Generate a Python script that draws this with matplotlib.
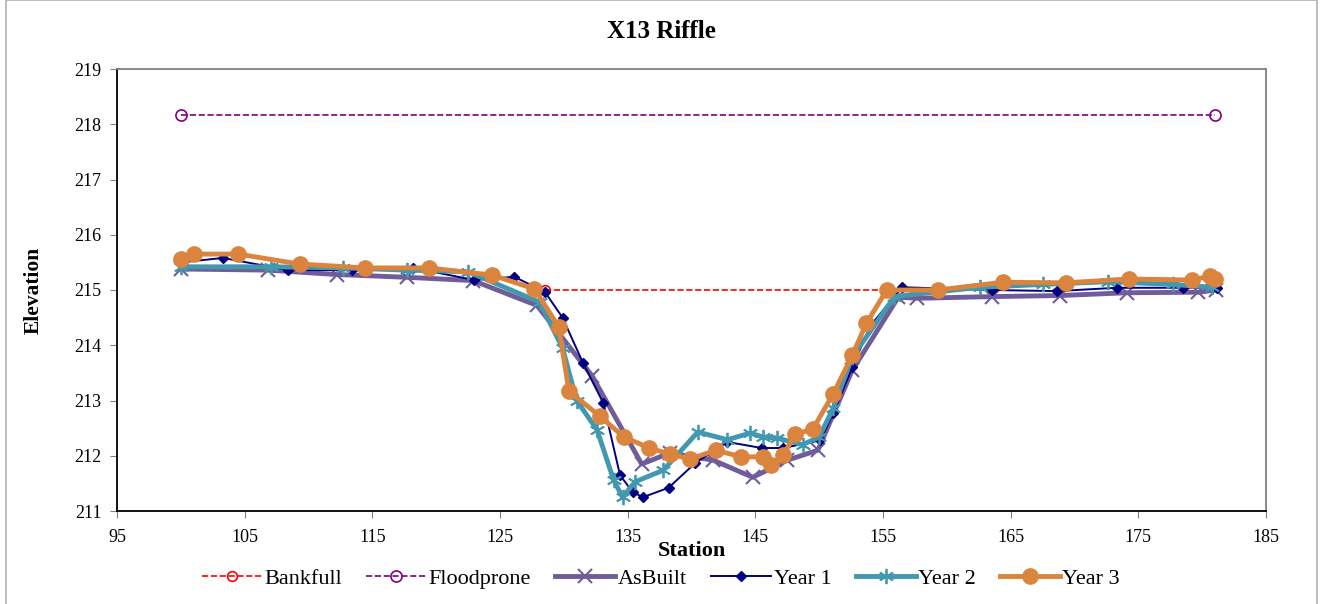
"""Perfil transversal X13 Riffle: estación vs elevación para cada campaña."""

import matplotlib
matplotlib.use("Agg")
import matplotlib.pyplot as plt
from matplotlib.patches import Rectangle

plt.rcParams["font.family"] = ["Liberation Serif", "DejaVu Serif"]

# --- Datos -------------------------------------------------------------------
bankfull_x = [128.5, 155.3]
bankfull_y = [215.0, 215.0]

floodprone_x = [100.0, 181.0]
floodprone_y = [218.17, 218.17]

asbuilt_x = [100.0, 106.8, 112.2, 117.7, 122.9, 127.9, 132.2, 136.1, 138.3,
             141.7, 144.8, 147.5, 149.9, 152.6, 156.2, 157.7, 163.5, 168.9,
             174.1, 179.7, 181.1]
asbuilt_y = [215.38, 215.36, 215.28, 215.23, 215.17, 214.72, 213.45, 211.85,
             212.05, 211.92, 211.61, 211.92, 212.10, 213.55, 214.87, 214.85,
             214.88, 214.90, 214.95, 214.96, 215.00]

year1_x = [100.0, 103.3, 108.4, 113.4, 118.2, 123.0, 126.1, 128.5, 129.9,
           131.5, 133.1, 134.4, 135.4, 136.2, 138.2, 140.3, 142.8, 145.5,
           147.2, 150.1, 151.1, 152.6, 154.0, 156.5, 163.5, 168.6, 173.3,
           178.5, 181.2]
year1_y = [215.50, 215.58, 215.36, 215.36, 215.40, 215.18, 215.24, 214.97,
           214.50, 213.68, 212.95, 211.65, 211.34, 211.25, 211.42, 211.87,
           212.25, 212.14, 212.14, 212.28, 212.77, 213.60, 214.35, 215.05,
           215.00, 214.98, 215.04, 215.04, 215.04]

year2_x = [100.0, 107.1, 112.7, 117.7, 122.5, 128.1, 129.9, 131.0, 132.6,
           133.9, 134.6, 135.6, 137.8, 140.5, 142.8, 144.6, 145.6, 146.7,
           148.7, 150.0, 151.1, 152.6, 155.9, 162.6, 167.5, 172.6, 177.7,
           180.8]
year2_y = [215.42, 215.42, 215.40, 215.36, 215.33, 214.78, 213.95, 213.00,
           212.47, 211.56, 211.25, 211.53, 211.74, 212.43, 212.29, 212.41,
           212.34, 212.32, 212.20, 212.34, 212.86, 213.79, 214.88, 215.05,
           215.10, 215.15, 215.10, 215.05]

year3_x = [100.0, 101.0, 104.5, 109.3, 114.4, 119.4, 124.4, 127.7, 129.6,
           130.4, 132.8, 134.7, 136.7, 138.3, 139.9, 141.9, 143.9, 145.6,
           146.2, 147.2, 148.1, 149.5, 151.1, 152.6, 153.7, 155.3, 159.3,
           164.4, 169.3, 174.3, 179.2, 180.6, 181.0]
year3_y = [215.56, 215.65, 215.65, 215.47, 215.40, 215.40, 215.27, 215.02,
           214.33, 213.17, 212.72, 212.34, 212.14, 212.03, 211.94, 212.10,
           211.98, 211.98, 211.83, 212.01, 212.39, 212.48, 213.12, 213.82,
           214.40, 215.00, 215.00, 215.14, 215.13, 215.20, 215.18, 215.25,
           215.20]

# --- Figura ------------------------------------------------------------------
fig = plt.figure(figsize=(13.22, 6.04), dpi=100)
ax = fig.add_axes([117 / 1322, 1 - 511 / 604, 1149 / 1322, 442 / 604])

ax.plot(bankfull_x, bankfull_y, color="#FF0000", linestyle="--", linewidth=1.2,
        marker="o", markersize=7, markerfacecolor="none",
        markeredgecolor="#FF0000", markeredgewidth=1.2, label="Bankfull")
ax.plot(floodprone_x, floodprone_y, color="#800080", linestyle="--",
        linewidth=1.2, marker="o", markersize=8, markerfacecolor="none",
        markeredgecolor="#800080", markeredgewidth=1.2, label="Floodprone")
ax.plot(asbuilt_x, asbuilt_y, color="#705C99", linewidth=3.5, marker="x",
        markersize=10, markeredgewidth=1.5, label="AsBuilt")
ax.plot(year1_x, year1_y, color="#000080", linewidth=1.4, marker="D",
        markersize=5.5, label="Year 1")
ax.plot(year2_x, year2_y, color="#4198AF", linewidth=3.5, marker=(6, 2, 0),
        markersize=11, markeredgewidth=1.3, label="Year 2")
ax.plot(year3_x, year3_y, color="#DB843D", linewidth=3.5, marker="o",
        markersize=11, label="Year 3")

ax.set_xlim(95, 185)
ax.set_ylim(211, 219)
ax.set_xticks(range(95, 186, 10))
ax.set_yticks(range(211, 220))
ax.tick_params(direction="out", length=5, color="#808080", labelsize=13)
ax.tick_params(axis="x", pad=8)
ax.tick_params(axis="y", pad=6)

for lado in ("top", "right"):
    ax.spines[lado].set_color("#808080")
for lado in ("left", "bottom"):
    ax.spines[lado].set_color("black")
for spine in ax.spines.values():
    spine.set_linewidth(1.3)

# El título va centrado en la figura, no en el eje
fig.text(0.5, 1 - 32 / 604, "X13 Riffle", fontsize=18, fontweight="bold",
         ha="center", va="center")
ax.set_xlabel("Station", fontsize=16, fontweight="bold", labelpad=-4)
ax.set_ylabel("Elevation", fontsize=15.5, fontweight="bold", labelpad=22)

fig.legend(loc="center", bbox_to_anchor=(0.5, 1 - 579 / 604), ncol=6,
           frameon=False, fontsize=16, handlelength=2.7, handletextpad=0.1,
           columnspacing=1.1, borderaxespad=0)

# Borde gris del gráfico
fig.patches.append(Rectangle((6 / 1322, -0.1), 1311 / 1322, 1.1,
                             transform=fig.transFigure, fill=False,
                             edgecolor="#B0B0B0", linewidth=1.2))

fig.savefig("out.png", dpi=100)
